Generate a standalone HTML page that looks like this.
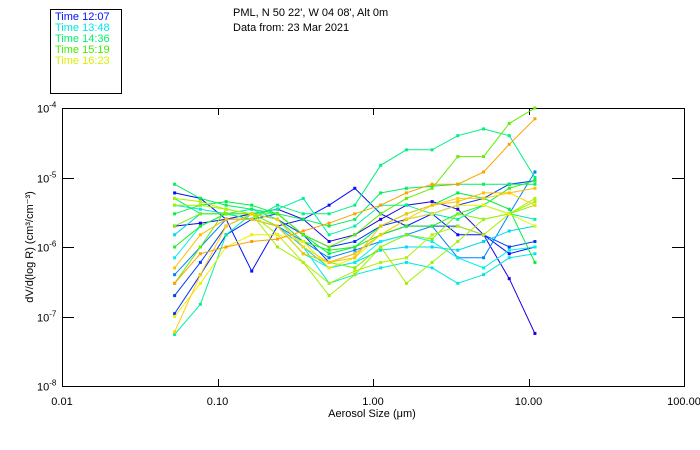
<!DOCTYPE html>
<html><head><meta charset="utf-8"><style>
body{margin:0;background:#fff;}
svg{display:block;font-family:"Liberation Sans",sans-serif;}
</style></head><body>
<svg id="chart" width="700" height="450" viewBox="0 0 700 450">
<rect x="0" y="0" width="700" height="450" fill="#fff"/>
<g>
<rect x="50.5" y="9.5" width="71" height="84" fill="none" stroke="#000"/>
<text x="55" y="20" font-size="11" fill="#0010ff">Time 12:07</text>
<text x="55" y="31" font-size="11" fill="#00e8e0">Time 13:48</text>
<text x="55" y="42" font-size="11" fill="#00f070">Time 14:36</text>
<text x="55" y="53" font-size="11" fill="#40f000">Time 15:19</text>
<text x="55" y="64" font-size="11" fill="#d8f000">Time 16:23</text>
</g>
<text x="233" y="16" font-size="11">PML, N 50 22', W 04 08', Alt 0m</text>
<text x="233" y="31" font-size="11">Data from: 23 Mar 2021</text>
<g id="axes"></g>
<g id="series"></g>
<text x="372" y="417" font-size="11" text-anchor="middle">Aerosol Size (μm)</text>
<text transform="translate(33,247) rotate(-90)" font-size="11" text-anchor="middle">dV/d(log R) (cm³/cm⁻³)</text>
</svg>
<script>
const sizes=[0.053,0.0776,0.1136,0.166,0.243,0.356,0.522,0.764,1.12,1.64,2.40,3.51,5.14,7.52,11.0];
const xTicks=[0.01,0.1,1,10,100];
const xTickLabels=["0.01","0.10","1.00","10.00","100.00"];
const yTicks=[-4,-5,-6,-7,-8];
const colors=["#0010ff","#2000e0","#0030ff","#0040f0","#0080ff","#00d8f0","#00e8e0","#00f0f0","#00f0a0","#00f080","#00f060","#00f040","#20f020","#60f000","#80f000","#a0f000","#b0f000","#f0f000","#ffd000","#ffa000","#ffc000"];
const s1=[6e-6,5e-6,2.5e-6,4.5e-7,2e-6,2.5e-6,4e-6,7e-6,3e-6,2e-6,3e-6,1.5e-6,1.5e-6,8e-7,1e-6];
const s2=[2e-6,2.2e-6,2.5e-6,3e-6,3.5e-6,2.5e-6,1.2e-6,1.5e-6,2.5e-6,4e-6,4.5e-6,3.5e-6,1.5e-6,3.5e-7,5.7e-8];
const s3=[1.1e-7,4e-7,1.5e-6,2.5e-6,3e-6,1.5e-6,1e-6,1.2e-6,2e-6,2.5e-6,3e-6,4e-6,5e-6,8e-6,9e-6];
const s4=[2e-7,6e-7,2e-6,3e-6,2.5e-6,1.5e-6,6e-7,8e-7,1.5e-6,2e-6,2e-6,2e-6,1.5e-6,1e-6,1.2e-6];
const s5=[4e-7,1e-6,2.5e-6,2.5e-6,2e-6,1.2e-6,7e-7,9e-7,1.2e-6,1.5e-6,2e-6,7e-7,7e-7,3e-6,1.2e-5];
const s6=[1.5e-6,3e-6,3e-6,2.5e-6,2e-6,1e-6,5e-7,6e-7,9e-7,1e-6,1e-6,9e-7,1.2e-6,1.7e-6,2e-6];
const s7=[4e-6,3.5e-6,3e-6,3.5e-6,2.5e-6,1e-6,3e-7,4e-7,5e-7,6e-7,5e-7,3e-7,4e-7,7e-7,8e-7];
const s8=[7e-7,2e-6,3e-6,3e-6,2e-6,8e-7,5e-7,6e-7,1.2e-6,1.5e-6,1.2e-6,7e-7,5e-7,9e-7,1e-6];
const s9=[5.5e-8,1.5e-7,1.5e-6,3e-6,3.5e-6,5e-6,1.5e-6,2e-6,4e-6,4e-6,3e-6,2.5e-6,4e-6,3e-6,2.5e-6];
const s10=[5e-6,3e-6,3e-6,2.5e-6,4e-6,3e-6,3e-6,4e-6,1.5e-5,2.5e-5,2.5e-5,4e-5,5e-5,4e-5,1e-5];
const s11=[8e-6,5e-6,4e-6,3.5e-6,3e-6,2.5e-6,2e-6,2.5e-6,6e-6,7e-6,7.5e-6,8e-6,8e-6,8e-6,8e-6];
const s12=[3e-6,4e-6,4.5e-6,4e-6,3e-6,1.5e-6,8e-7,1e-6,2e-6,3e-6,4e-6,6e-6,5e-6,3.5e-6,6e-7];
const s13=[1e-6,2e-6,3e-6,3e-6,2.5e-6,1.2e-6,9e-7,1e-6,1.5e-6,2e-6,2e-6,3e-6,4e-6,7e-6,9e-6];
const s14=[3e-7,1e-6,3.5e-6,3e-6,3e-6,1.5e-6,1e-6,1.5e-6,3e-6,5e-6,7e-6,2e-5,2e-5,6e-5,1e-4];
const s15=[2e-6,3e-6,3e-6,3e-6,2e-6,8e-7,6e-7,5e-7,1e-6,1.5e-6,1.3e-6,3e-6,2.5e-6,3e-6,4e-6];
const s16=[4e-6,4e-6,3.5e-6,3e-6,1e-6,6e-7,2e-7,4e-7,1e-6,3e-7,6e-7,1.2e-6,2.5e-6,3e-6,4.5e-6];
const s17=[5e-6,4.5e-6,3.5e-6,3e-6,1.5e-6,6e-7,3e-7,4.5e-7,6e-7,7e-7,1.5e-6,2e-6,1.5e-6,3e-6,5e-6];
const s18=[1e-7,3e-7,1e-6,1.5e-6,1.5e-6,1.2e-6,5e-7,7e-7,1.5e-6,2.5e-6,3e-6,4e-6,4e-6,3e-6,2e-6];
const s19=[6e-8,4e-7,2e-6,3e-6,2.5e-6,1e-6,6e-7,8e-7,1.5e-6,2.5e-6,4e-6,5e-6,5e-6,6e-6,4e-6];
const s20=[3e-7,8e-7,1e-6,1.2e-6,1.3e-6,1.7e-6,2.2e-6,3e-6,4e-6,6e-6,8e-6,8e-6,1.2e-5,3e-5,7e-5];
const s21=[5e-7,1.5e-6,2.5e-6,2.5e-6,2e-6,8e-7,6e-7,7e-7,2e-6,3e-6,4e-6,4.5e-6,6e-6,6e-6,7e-6];
const seriesList=[s1,s2,s3,s4,s5,s6,s7,s8,s9,s10,s11,s12,s13,s14,s15,s16,s17,s18,s19,s20,s21];

const X0=62,X1=684,Y0=108,Y1=386;
function xs(v){return X0+(Math.log10(v)+2)/4*(X1-X0);}
function ys(v){return Y0+(-4-Math.log10(v))/4*(Y1-Y0);}
const NS="http://www.w3.org/2000/svg";
function mk(tag,attrs,parent){const e=document.createElementNS(NS,tag);for(const k in attrs)e.setAttribute(k,attrs[k]);parent.appendChild(e);return e;}
const axes=document.getElementById('axes');
const frame=mk('rect',{x:X0+0.5,y:Y0+0.5,width:X1-X0,height:Y1-Y0,fill:'none',stroke:'#000'},axes);


xTicks.forEach((t,i)=>{
  const x=Math.round(xs(t))+0.5;
  if(i>0&&i<xTicks.length-1){
    const a=mk('line',{x1:x,x2:x,y1:Y1,y2:Y1-7,stroke:'#000'},axes);
    
    
    const b=mk('line',{x1:x,x2:x,y1:Y0,y2:Y0+7,stroke:'#000'},axes);
    
    
  }
  const l=mk('text',{x:xs(t),y:Y1+19,'font-size':11,'text-anchor':'middle'},axes);
  l.textContent=xTickLabels[i];
  
  
});
yTicks.forEach((e,i)=>{
  const y=Math.round(ys(Math.pow(10,e)))+0.5;
  if(i>0&&i<yTicks.length-1){
    const a=mk('line',{x1:X0,x2:X0+12,y1:y,y2:y,stroke:'#000'},axes);
    
    
    const b=mk('line',{x1:X1,x2:X1-12,y1:y,y2:y,stroke:'#000'},axes);
    
    
  }
  const l=mk('text',{x:37,y:y+4,'font-size':11},axes);
  l.innerHTML='10<tspan dy="-5" font-size="8">'+e+'</tspan>';
  
  
});
const sg=document.getElementById('series');
seriesList.forEach((s,i)=>{
  const c=colors[i%colors.length];
  const g=mk('g',{},sg);
  
  
  const pts=s.map((v,j)=>xs(sizes[j]).toFixed(1)+','+ys(v).toFixed(1)).join(' ');
  const pl=mk('polyline',{points:pts,fill:'none',stroke:c,'stroke-width':1},g);
  
  
  s.forEach((v,j)=>{
    const r=mk('rect',{x:xs(sizes[j])-1.5,y:ys(v)-1.5,width:3,height:3,fill:c},g);
    
    
  });
});
</script>
</body></html>
